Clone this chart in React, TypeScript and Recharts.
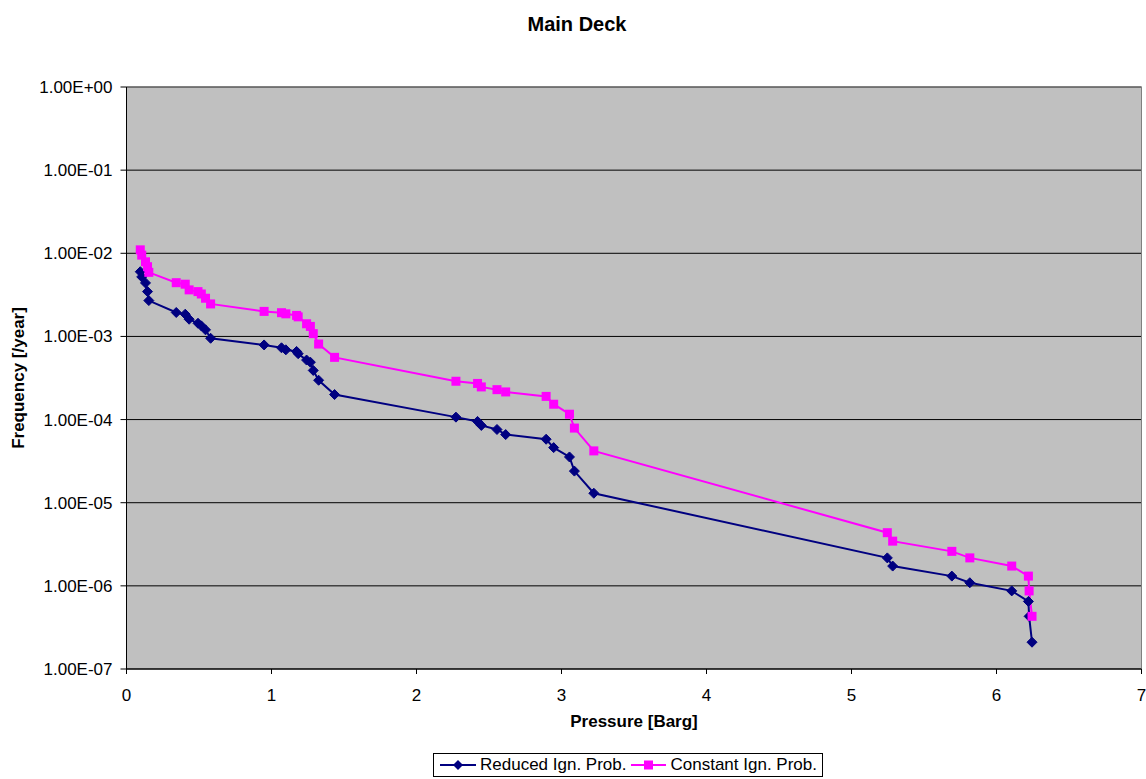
import * as React from "react";
import {
  LineChart,
  Line,
  XAxis,
  YAxis,
  CartesianGrid,
  Legend,
  ReferenceLine,
} from "recharts";

const pressure = [
  0.095, 0.105, 0.131, 0.145, 0.154,
  0.343, 0.405, 0.432, 0.493, 0.516, 0.545, 0.58,
  0.949, 1.069, 1.099, 1.173, 1.184, 1.242, 1.268, 1.288, 1.325, 1.435,
  2.272, 2.421, 2.447, 2.555, 2.615, 2.894, 2.946, 3.055, 3.089, 3.223,
  5.247, 5.284, 5.692, 5.816, 6.105, 6.22, 6.225, 6.245,
];

const reduced = [
  6.0e-3, 5.2e-3, 4.4e-3, 3.46e-3, 2.7e-3,
  1.94e-3, 1.85e-3, 1.61e-3, 1.44e-3, 1.34e-3, 1.2e-3, 9.5e-4,
  7.9e-4, 7.3e-4, 6.9e-4, 6.6e-4, 6.2e-4, 5.2e-4, 4.9e-4, 3.9e-4, 2.97e-4, 2.0e-4,
  1.07e-4, 9.5e-5, 8.5e-5, 7.6e-5, 6.6e-5, 5.8e-5, 4.6e-5, 3.55e-5, 2.4e-5, 1.3e-5,
  2.17e-6, 1.73e-6, 1.31e-6, 1.09e-6, 8.7e-7, 6.5e-7, 4.3e-7, 2.1e-7,
];

const constant = [
  1.1e-2, 9.5e-3, 7.9e-3, 6.9e-3, 5.9e-3,
  4.43e-3, 4.25e-3, 3.63e-3, 3.46e-3, 3.24e-3, 2.88e-3, 2.46e-3,
  2.0e-3, 1.93e-3, 1.87e-3, 1.79e-3, 1.72e-3, 1.42e-3, 1.32e-3, 1.08e-3, 8.1e-4, 5.6e-4,
  2.89e-4, 2.72e-4, 2.47e-4, 2.29e-4, 2.15e-4, 1.9e-4, 1.53e-4, 1.16e-4, 7.9e-5, 4.2e-5,
  4.36e-6, 3.45e-6, 2.6e-6, 2.17e-6, 1.73e-6, 1.31e-6, 8.7e-7, 4.3e-7,
];

const xTicks = [0, 1, 2, 3, 4, 5, 6, 7];
const yTicks = [1e-7, 1e-6, 1e-5, 1e-4, 1e-3, 1e-2, 1e-1, 1];
const yTickLabels = [
  "1.00E-07", "1.00E-06", "1.00E-05", "1.00E-04",
  "1.00E-03", "1.00E-02", "1.00E-01", "1.00E+00",
];

const data = pressure.map((p, i) => ({
  pressure: p,
  reduced: reduced[i],
  constant: constant[i],
}));

const FONT = "'Liberation Sans', Arial, sans-serif";
const NAVY = "#000080";
const PINK = "#FF00FF";

const Diamond = (props: any) => {
  const { cx, cy } = props;
  if (cx == null || cy == null) return null;
  return (
    <polygon
      points={`${cx},${cy - 5} ${cx + 5},${cy} ${cx},${cy + 5} ${cx - 5},${cy}`}
      fill={NAVY}
      stroke={NAVY}
    />
  );
};

const Square = (props: any) => {
  const { cx, cy } = props;
  if (cx == null || cy == null) return null;
  return <rect x={cx - 4.5} y={cy - 4.5} width={9} height={9} fill={PINK} />;
};

const LegendBox = () => (
  <div
    style={{
      display: "inline-flex",
      alignItems: "center",
      border: "1px solid #000",
      background: "#fff",
      height: 22,
      padding: "0 5px 0 6px",
      fontFamily: FONT,
      fontSize: 17,
      color: "#000",
      whiteSpace: "nowrap",
    }}
  >
    <svg width={36} height={12} style={{ marginRight: 4 }}>
      <line x1={0} y1={6} x2={36} y2={6} stroke={NAVY} strokeWidth={2} />
      <polygon points="18,1 23,6 18,11 13,6" fill={NAVY} />
    </svg>
    <span style={{ marginRight: 5 }}>Reduced Ign. Prob.</span>
    <svg width={35} height={12} style={{ marginRight: 4 }}>
      <line x1={0} y1={6} x2={35} y2={6} stroke={PINK} strokeWidth={2} />
      <rect x={13} y={1.5} width={9} height={9} fill={PINK} />
    </svg>
    <span>Constant Ign. Prob.</span>
  </div>
);

const YTitle = (props: any) => {
  const { viewBox } = props;
  const cx = 18;
  const cy = viewBox.y + viewBox.height / 2;
  return (
    <text
      x={cx}
      y={cy}
      transform={`rotate(-90 ${cx} ${cy})`}
      textAnchor="middle"
      dominantBaseline="central"
      fontFamily={FONT}
      fontSize={17}
      fontWeight="bold"
      fill="#000"
    >
      Frequency [/year]
    </text>
  );
};

export default function App() {
  return (
    <div
      style={{
        position: "absolute",
        left: 0,
        top: 0,
        width: 1146,
        height: 779,
        background: "#fff",
      }}
    >
      <div
        style={{
          position: "absolute",
          top: 13,
          left: 0,
          width: 1154,
          textAlign: "center",
          fontFamily: FONT,
          fontSize: 20,
          fontWeight: "bold",
          color: "#000",
        }}
      >
        Main Deck
      </div>
      <LineChart
        width={1146}
        height={779}
        data={data}
        margin={{ top: 87, right: 4.5, left: 0, bottom: 26 }}
      >
        <CartesianGrid
          vertical={false}
          fill="#C0C0C0"
          fillOpacity={1}
          stroke="#000"
          strokeOpacity={1}
        />
        <XAxis
          dataKey="pressure"
          type="number"
          domain={[0, 7]}
          ticks={xTicks}
          interval={0}
          height={60}
          tickSize={5}
          tickMargin={15}
          stroke="#000"
          tick={{ fill: "#000", fontSize: 17, fontFamily: FONT }}
          label={{
            value: "Pressure [Barg]",
            position: "insideBottom",
            offset: 2,
            fill: "#000",
            fontSize: 17,
            fontWeight: "bold",
            fontFamily: FONT,
          }}
        />
        <YAxis
          scale="log"
          domain={[1e-7, 1]}
          allowDataOverflow
          ticks={yTicks}
          interval={0}
          width={126.5}
          tickSize={6}
          tickMargin={8}
          stroke="#000"
          tick={{ fill: "#000", fontSize: 17, fontFamily: FONT }}
          tickFormatter={(v: number) => yTickLabels[yTicks.indexOf(v)] ?? ""}
          label={<YTitle />}
        />
        <ReferenceLine x={7} stroke="#808080" ifOverflow="extendDomain" />
        <ReferenceLine y={1} stroke="#808080" />
        <Legend
          verticalAlign="bottom"
          content={<LegendBox />}
          wrapperStyle={{ left: 433, top: 753, bottom: "auto", width: 400 }}
        />
        <Line
          dataKey="reduced"
          stroke={NAVY}
          strokeWidth={2}
          dot={<Diamond />}
          activeDot={false}
          isAnimationActive={false}
        />
        <Line
          dataKey="constant"
          stroke={PINK}
          strokeWidth={2}
          dot={<Square />}
          activeDot={false}
          isAnimationActive={false}
        />
      </LineChart>
    </div>
  );
}
